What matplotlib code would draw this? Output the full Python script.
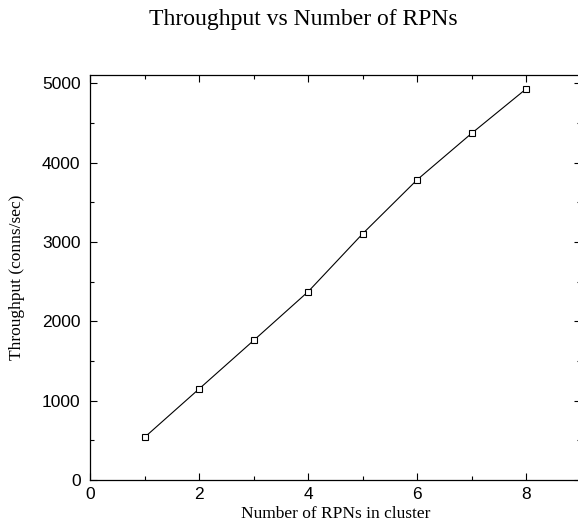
import matplotlib
matplotlib.use("Agg")
import matplotlib.pyplot as plt
from matplotlib.ticker import MultipleLocator

# throughput measured for each cluster size
num_rpns = [1, 2, 3, 4, 5, 6, 7, 8]
throughput = [540, 1150, 1760, 2375, 3105, 3785, 4370, 4930]

fig = plt.figure(figsize=(5.78, 5.24), dpi=100)
ax = fig.add_axes([0.1562, 0.084, 0.8486, 0.7723])

ax.plot(num_rpns, throughput, color="black", linewidth=0.8,
        marker="s", markersize=5, markerfacecolor="white",
        markeredgecolor="black", markeredgewidth=0.8)

ax.set_xlim(0, 9)
ax.set_ylim(0, 5100)
ax.xaxis.set_major_locator(MultipleLocator(2))
ax.xaxis.set_minor_locator(MultipleLocator(1))
ax.yaxis.set_major_locator(MultipleLocator(1000))
ax.yaxis.set_minor_locator(MultipleLocator(500))
ax.tick_params(which="both", direction="in", top=True, right=True,
               labelsize=12.5, width=0.8)
ax.tick_params(which="major", length=5)
ax.tick_params(which="minor", length=3)
ax.tick_params(axis="y", pad=7)
ax.tick_params(axis="x", pad=5)
for lbl in ax.get_xticklabels() + ax.get_yticklabels():
    lbl.set_family("Liberation Sans")
for sp in ax.spines.values():
    sp.set_linewidth(0.9)

ax.set_xlabel("Number of RPNs in cluster", family="Liberation Serif",
              fontsize=12.5, labelpad=3)
ax.set_ylabel("Throughput (conns/sec)", family="Liberation Serif",
              fontsize=12.5, labelpad=12)
fig.text(0.524, 0.962, "Throughput vs Number of RPNs", ha="center", va="center",
         family="Liberation Serif", fontsize=17)

fig.savefig("out.png", dpi=100)
